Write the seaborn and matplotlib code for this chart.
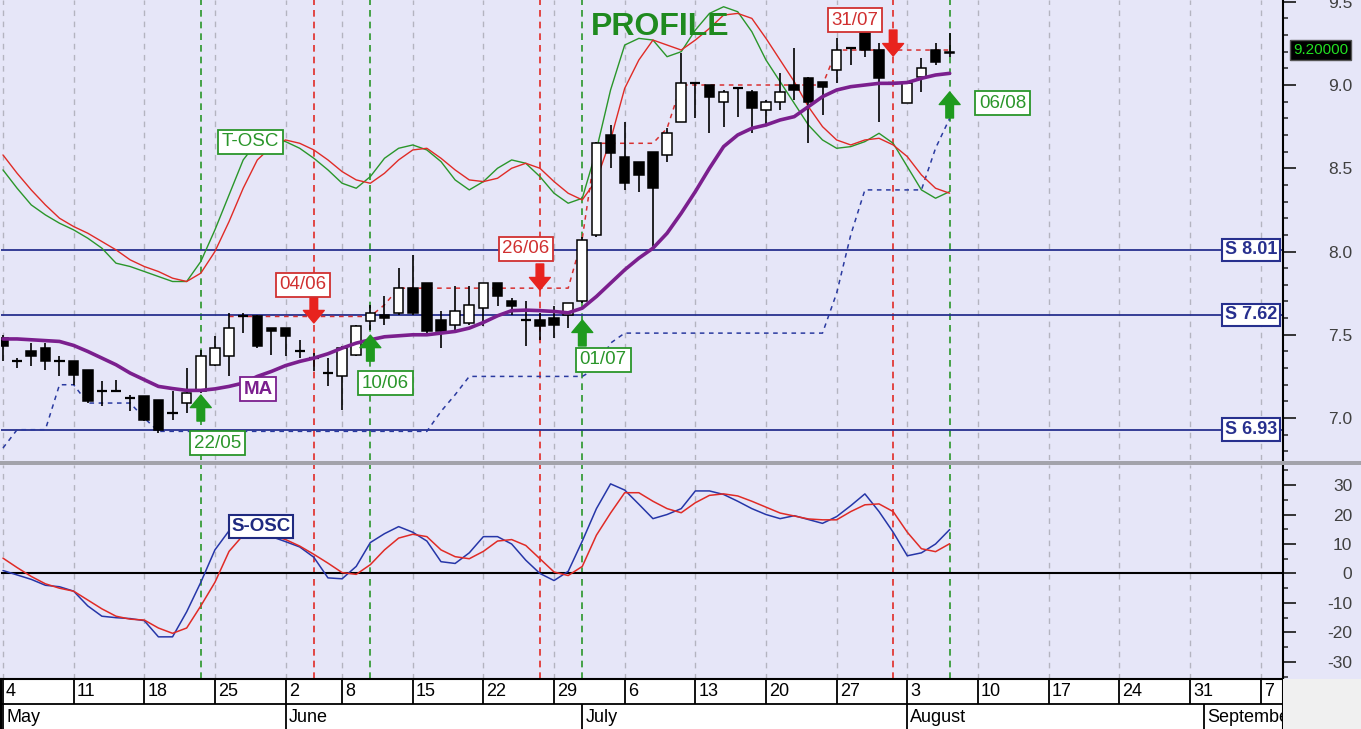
import numpy as np
import seaborn as sns
import matplotlib.pyplot as plt
from matplotlib import font_manager
from matplotlib.patches import Rectangle
from matplotlib.ticker import MultipleLocator, FormatStrFormatter

# ---------------- data (one value per trading day) ----------------
opens = [7.48, 7.34, 7.40, 7.42, 7.34, 7.34, 7.29, 7.16, 7.16, 7.12,
         7.13, 7.11, 7.03, 7.09, 7.16, 7.32, 7.37, 7.61, 7.61, 7.54,
         7.54, 7.40, 7.36, 7.27, 7.25, 7.38, 7.58, 7.62, 7.63, 7.78,
         7.81, 7.59, 7.56, 7.57, 7.66, 7.81, 7.70, 7.59, 7.59, 7.60,
         7.62, 7.70, 8.10, 8.70, 8.57, 8.54, 8.60, 8.58, 8.78, 9.01,
         9.00, 8.90, 8.98, 8.96, 8.85, 8.90, 9.00, 9.04, 9.02, 9.09,
         9.22, 9.31, 9.21, 9.01, 8.89, 9.05, 9.21, 9.19]
highs = [7.50, 7.36, 7.45, 7.45, 7.37, 7.34, 7.29, 7.22, 7.23, 7.14,
         7.13, 7.11, 7.16, 7.30, 7.41, 7.49, 7.63, 7.63, 7.62, 7.54,
         7.54, 7.47, 7.39, 7.36, 7.43, 7.56, 7.68, 7.73, 7.90, 7.98,
         7.81, 7.64, 7.79, 7.79, 7.81, 7.81, 7.72, 7.70, 7.63, 7.67,
         7.69, 8.09, 8.66, 8.76, 8.78, 8.54, 8.60, 8.74, 9.19, 9.01,
         9.00, 8.97, 8.98, 8.97, 8.91, 9.07, 9.22, 9.05, 9.02, 9.28,
         9.23, 9.31, 9.25, 9.02, 9.01, 9.16, 9.25, 9.31]
lows = [7.34, 7.30, 7.31, 7.29, 7.25, 7.20, 7.09, 7.07, 7.16, 7.04,
        6.98, 6.91, 6.99, 7.03, 7.15, 7.31, 7.25, 7.51, 7.42, 7.38,
        7.37, 7.36, 7.28, 7.19, 7.05, 7.37, 7.53, 7.56, 7.62, 7.62,
        7.51, 7.42, 7.53, 7.56, 7.55, 7.67, 7.62, 7.43, 7.47, 7.48,
        7.54, 7.69, 8.09, 8.50, 8.37, 8.36, 8.01, 8.54, 8.78, 8.80,
        8.71, 8.75, 8.81, 8.71, 8.76, 8.85, 8.91, 8.65, 8.82, 9.01,
        9.12, 9.17, 8.78, 9.00, 8.89, 8.96, 9.12, 9.17]
closes = [7.43, 7.34, 7.37, 7.34, 7.34, 7.26, 7.10, 7.16, 7.16, 7.12,
          6.99, 6.93, 7.03, 7.15, 7.37, 7.42, 7.54, 7.61, 7.43, 7.52,
          7.49, 7.40, 7.36, 7.27, 7.42, 7.55, 7.63, 7.60, 7.78, 7.63,
          7.52, 7.52, 7.64, 7.68, 7.81, 7.73, 7.67, 7.59, 7.55, 7.56,
          7.69, 8.07, 8.65, 8.59, 8.41, 8.46, 8.38, 8.71, 9.01, 9.01,
          8.93, 8.96, 8.98, 8.86, 8.90, 8.96, 8.97, 8.90, 8.99, 9.21,
          9.22, 9.21, 9.04, 9.01, 9.01, 9.10, 9.14, 9.20]

ma_line = [7.475, 7.475, 7.47, 7.465, 7.46, 7.436, 7.40, 7.36, 7.32, 7.27,
           7.23, 7.19, 7.177, 7.166, 7.166, 7.175, 7.19, 7.21, 7.25, 7.28,
           7.315, 7.34, 7.36, 7.386, 7.42, 7.45, 7.47, 7.488, 7.494, 7.50,
           7.50, 7.51, 7.52, 7.54, 7.574, 7.614, 7.645, 7.648, 7.645, 7.64,
           7.632, 7.66, 7.73, 7.81, 7.89, 7.96, 8.02, 8.11, 8.23, 8.36,
           8.50, 8.63, 8.70, 8.74, 8.76, 8.79, 8.81, 8.87, 8.93, 8.97,
           8.99, 9.00, 9.01, 9.01, 9.015, 9.04, 9.06, 9.07]

tosc_fast = [8.49, 8.38, 8.28, 8.22, 8.17, 8.13, 8.08, 8.02, 7.93, 7.91,
             7.88, 7.85, 7.82, 7.82, 7.94, 8.13, 8.34, 8.55, 8.66, 8.68,
             8.66, 8.62, 8.56, 8.49, 8.41, 8.38, 8.45, 8.56, 8.62, 8.64,
             8.61, 8.54, 8.43, 8.37, 8.42, 8.50, 8.55, 8.53, 8.45, 8.35,
             8.29, 8.32, 8.61, 8.97, 9.24, 9.28, 9.27, 9.17, 9.20, 9.33,
             9.43, 9.47, 9.44, 9.32, 9.15, 9.02, 8.89, 8.76, 8.67, 8.62,
             8.63, 8.66, 8.71, 8.65, 8.51, 8.37, 8.32, 8.36]
tosc_slow = [8.58, 8.47, 8.37, 8.28, 8.20, 8.15, 8.11, 8.06, 8.01, 7.95,
             7.91, 7.88, 7.84, 7.82, 7.87, 8.00, 8.18, 8.38, 8.55, 8.63,
             8.67, 8.65, 8.61, 8.55, 8.48, 8.43, 8.41, 8.47, 8.55, 8.61,
             8.62, 8.56, 8.49, 8.43, 8.42, 8.44, 8.50, 8.53, 8.50, 8.42,
             8.35, 8.31, 8.43, 8.67, 8.98, 9.15, 9.27, 9.24, 9.21, 9.27,
             9.34, 9.42, 9.43, 9.40, 9.28, 9.15, 9.02, 8.87, 8.75, 8.67,
             8.64, 8.67, 8.68, 8.64, 8.57, 8.46, 8.38, 8.35]

stop_line = [6.82, 6.93, 6.93, 6.93, 7.20, 7.20, 7.09, 7.09, 7.09, 7.09,
             7.00, 6.92, 6.92, 6.92, 6.92, 6.92, 6.92, 6.92, 6.92, 6.92,
             6.92, 6.92, 6.92, 6.92, 6.92, 6.92, 6.92, 6.92, 6.92, 6.92,
             6.92, 7.04, 7.14, 7.25, 7.25, 7.25, 7.25, 7.25, 7.25, 7.25,
             7.25, 7.25, 7.30, 7.45, 7.51, 7.51, 7.51, 7.51, 7.51, 7.51,
             7.51, 7.51, 7.51, 7.51, 7.51, 7.51, 7.51, 7.51, 7.51, 7.75,
             8.10, 8.37, 8.37, 8.37, 8.37, 8.37, 8.62, 8.80]

resistance_line = [np.nan] * 16 + [
    7.61, 7.61, 7.61, 7.61, 7.61, 7.61, 7.61, 7.61, 7.61, 7.61,
    7.61, 7.68, 7.78, 7.78, 7.78, 7.78, 7.78, 7.78, 7.78, 7.78,
    7.78, 7.78, 7.78, 7.78, 7.78, 8.08, 8.65, 8.65, 8.65, 8.65,
    8.65, 8.74, 9.00, 9.00, 9.00, 9.00, 9.00, 9.00, 9.00, 9.00,
    9.00, 9.00, 9.00, 9.21, 9.21, 9.21, 9.21, 9.21, 9.21, 9.21,
    9.21, 9.21]

sosc_fast = [1.0, -0.5, -2.0, -4.0, -4.5, -6.0, -11.0, -14.5, -15.0, -15.3,
             -16.0, -21.5, -21.5, -13.0, -3.0, 8.0, 14.5, 15.0, 14.5, 12.5,
             10.8, 9.0, 5.5, -1.5, -1.8, 2.4, 10.5, 13.5, 15.9, 14.0,
             11.0, 4.0, 3.4, 7.0, 12.5, 12.5, 10.0, 4.5, 0.0, -2.4,
             0.7, 11.0, 22.0, 30.4, 28.3, 23.5, 18.6, 20.0, 22.0, 28.0,
             28.0, 26.8, 24.5, 22.0, 20.0, 18.6, 19.6, 18.3, 17.0, 19.3,
             23.0, 27.0, 21.0, 14.0, 6.0, 7.0, 10.0, 14.9]
sosc_slow = [5.2, 2.0, -1.0, -3.5, -5.0, -6.0, -9.0, -12.0, -14.5, -15.5,
             -15.8, -18.5, -20.3, -18.5, -11.0, -3.0, 7.5, 13.0, 14.5, 13.0,
             11.5, 9.3, 6.5, 3.5, 0.3, -0.3, 3.0, 8.0, 12.0, 13.3,
             12.5, 8.0, 5.7, 5.0, 7.5, 11.0, 11.5, 9.5, 5.0, 0.5,
             -0.7, 2.4, 13.0, 20.5, 27.4, 27.4, 24.5, 22.0, 20.6, 24.0,
             26.5, 27.0, 26.3, 24.5, 22.5, 20.5, 19.5, 18.5, 18.2, 18.2,
             21.0, 23.3, 23.6, 21.0, 14.0, 8.4, 7.4, 10.1]

support_levels = [8.01, 7.62, 6.93]
last_price = 9.20

# signals: trading-day index, label, kind, arrow-tip price
signal_idx = [14, 22, 26, 38, 41, 63, 67]
signal_labels = ['22/05', '04/06', '10/06', '26/06', '01/07', '31/07', '06/08']
signal_kind = ['buy', 'sell', 'buy', 'sell', 'buy', 'sell', 'buy']
signal_tip = [7.138, 7.571, 7.498, 7.769, 7.589, 9.174, 8.958]

# calendar axis (first trading day of each week / month)
week_idx = [0, 5, 10, 15, 20, 24, 29, 34, 39, 44, 49, 54, 59, 64, 69, 74, 79, 84, 89]
week_labels = ['4', '11', '18', '25', '2', '8', '15', '22', '29', '6', '13', '20',
               '27', '3', '10', '17', '24', '31', '7']
month_idx = [0, 20, 41, 64, 85]
month_labels = ['May', 'June', 'July', 'August', 'September']

# ---------------- styling ----------------
sns.set_style("white")
installed = {f.name for f in font_manager.fontManager.ttflist}
narrow = 'Liberation Sans Narrow' if 'Liberation Sans Narrow' in installed else 'Liberation Sans'
plt.rcParams['font.family'] = ['Liberation Sans', 'DejaVu Sans']

BG = '#e6e6f8'
NAVY = '#27308e'
GREEN = '#2a962a'
RED = '#e02b26'
PURPLE = '#7b1f8e'

W, H = 1361, 729
fig = plt.figure(figsize=(W / 100, H / 100), dpi=100, facecolor=BG)


def px_axes(x0, y0, x1, y1):
    return fig.add_axes([x0 / W, 1 - y1 / H, (x1 - x0) / W, (y1 - y0) / H])


ax = px_axes(1, 0, 1283, 460)
axo = px_axes(1, 465, 1283, 679)
axd = px_axes(1, 679, 1283, 729)

days = np.arange(len(closes))
xlim = (-0.14, 90.59)

for a in (ax, axo):
    a.set_facecolor(BG)
    a.set_xlim(*xlim)
    a.set_xticks([])
    for s in ('left', 'top', 'bottom'):
        a.spines[s].set_visible(False)
    a.spines['right'].set_color('black')
    a.spines['right'].set_linewidth(1.5)
    # weekly grid
    for w in week_idx:
        a.axvline(w, color='#b4b4c0', lw=1.0, ls=(0, (4, 4)), zorder=1)
    # signal lines
    for i, k in zip(signal_idx, signal_kind):
        a.axvline(i, color=GREEN if k == 'buy' else RED, lw=1.2, ls=(0, (4, 3)), zorder=2)

# ---------------- price panel ----------------
for lvl in support_levels:
    ax.axhline(lvl, color=NAVY, lw=1.3, zorder=2)
    ax.annotate(f'S {lvl:.2f}', xy=(1, lvl), xycoords=('axes fraction', 'data'),
                xytext=(-6, 0), textcoords='offset pixels', ha='right', va='center',
                fontsize=13, fontweight='bold', color=NAVY, zorder=9,
                bbox=dict(boxstyle='square,pad=0.15', fc='white', ec=NAVY, lw=1.5))

ax.plot(days, stop_line, color='#2a3aa0', lw=1.1, ls=(0, (3, 3)), zorder=3)
ax.plot(days, resistance_line, color='#d83030', lw=1.1, ls=(0, (3, 3)), zorder=3)

sns.lineplot(x=days, y=tosc_fast, ax=ax, color=GREEN, lw=1.0, zorder=3)
sns.lineplot(x=days, y=tosc_slow, ax=ax, color=RED, lw=1.0, zorder=3)

o, h, l, c = map(np.array, (opens, highs, lows, closes))
ax.vlines(days, l, h, color='black', lw=1.2, zorder=4)
up, down, flat = c > o, c < o, c == o
ax.bar(days[up], (c - o)[up], bottom=o[up], width=0.68, color='white',
       edgecolor='black', linewidth=1.1, zorder=5)
ax.bar(days[down], (o - c)[down], bottom=c[down], width=0.68, color='black',
       edgecolor='black', linewidth=1.1, zorder=5)
ax.hlines(c[flat], days[flat] - 0.36, days[flat] + 0.36, color='black', lw=1.6, zorder=5)

sns.lineplot(x=days, y=ma_line, ax=ax, color=PURPLE, lw=2.6, zorder=6)

# signal arrows and date boxes (label offsets in pixels from the arrow tip)
label_offsets = {'22/05': (17, -48), '04/06': (-11, 38), '10/06': (15, -48),
                 '26/06': (-14, 41), '01/07': (21, -40), '31/07': (-38, 36),
                 '06/08': (53, -11)}
for i, lab, k, tip in zip(signal_idx, signal_labels, signal_kind, signal_tip):
    col = '#1f9a1f' if k == 'buy' else '#e8231e'
    tcol = GREEN if k == 'buy' else '#d03030'
    ax.annotate('', xy=(i, tip), xytext=(0, -26 if k == 'buy' else 26),
                textcoords='offset pixels', zorder=8,
                arrowprops=dict(arrowstyle='simple,head_length=0.9,head_width=1.5,tail_width=0.55',
                                color=col, shrinkA=0, shrinkB=0, mutation_scale=10))
    ax.annotate(lab, xy=(i, tip), xytext=label_offsets[lab], textcoords='offset pixels',
                ha='center', va='center', fontsize=13.5, color=tcol, zorder=9,
                bbox=dict(boxstyle='square,pad=0.2', fc='white', ec=tcol, lw=1.3))

ax.text(17.5, 8.658, 'T-OSC', ha='center', va='center', fontsize=13.5, color=GREEN, zorder=9,
        bbox=dict(boxstyle='square,pad=0.2', fc='white', ec=GREEN, lw=1.3))
ax.text(18.05, 7.174, 'MA', ha='center', va='center', fontsize=13.5, fontweight='bold',
        color=PURPLE, zorder=9,
        bbox=dict(boxstyle='square,pad=0.2', fc='white', ec=PURPLE, lw=1.3))
ax.text(46.5, 9.348, 'PROFILE', ha='center', va='center', fontsize=23, fontweight='bold',
        color='#1f8a1f', zorder=9)

ax.set_ylim(6.748, 9.5105)
ax.yaxis.tick_right()
ax.yaxis.set_major_locator(MultipleLocator(0.5))
ax.yaxis.set_minor_locator(MultipleLocator(0.1))
ax.yaxis.set_major_formatter(FormatStrFormatter('%.1f'))
ax.tick_params(axis='y', which='major', length=9, width=1.3, pad=41, labelsize=12.5,
               labelcolor='#404040', labelfontfamily=narrow)
ax.tick_params(axis='y', which='minor', length=3.8, width=1.1)
ax.set_ylabel('')
plt.setp(ax.get_yticklabels(), ha='right')

ax.annotate(f'{last_price:.5f}', xy=(1, last_price), xycoords=('axes fraction', 'data'),
            xytext=(10, 2), textcoords='offset pixels', ha='left', va='center',
            fontsize=11, family=narrow, color='#22e022', annotation_clip=False,
            bbox=dict(boxstyle='square,pad=0.2', fc='black', ec='#555555'))

# ---------------- oscillator panel ----------------
axo.axhline(0, color='black', lw=1.5, zorder=2)
sns.lineplot(x=days, y=sosc_fast, ax=axo, color='#2636a8', lw=1.1, zorder=3)
sns.lineplot(x=days, y=sosc_slow, ax=axo, color=RED, lw=1.1, zorder=3)
axo.text(18.26, 15.9, 'S-OSC', ha='center', va='center', fontsize=13.5, fontweight='bold',
         color='#1f2a80', zorder=9,
         bbox=dict(boxstyle='square,pad=0.15', fc='white', ec='#1f2a80', lw=1.5))
axo.set_ylim(-35.8, 36.8)
axo.yaxis.tick_right()
axo.yaxis.set_major_locator(MultipleLocator(10))
axo.yaxis.set_minor_locator(MultipleLocator(5))
axo.yaxis.set_major_formatter(FormatStrFormatter('%d'))
axo.tick_params(axis='y', which='major', length=9, width=1.3, pad=41, labelsize=12.5,
                labelcolor='#404040', labelfontfamily=narrow)
axo.tick_params(axis='y', which='minor', length=3.8, width=1.1)
axo.set_ylabel('')
plt.setp(axo.get_yticklabels(), ha='right')

# ---------------- date strip ----------------
axd.set_facecolor('white')
axd.set_xlim(*xlim)
axd.set_ylim(0, 2)
axd.set_xticks([])
axd.set_yticks([])
axd.spines['bottom'].set_visible(False)
for s in ('top', 'left', 'right'):
    axd.spines[s].set_color('black')
    axd.spines[s].set_linewidth(1.5)
axd.axhline(1, color='black', lw=1.3)
axd.vlines(week_idx, 1, 2, color='black', lw=1.3)
axd.vlines(month_idx, 0, 1, color='black', lw=1.3)
for w, lab in zip(week_idx, week_labels):
    axd.text(w + 0.22, 1.5, lab, ha='left', va='center', fontsize=13, family=narrow,
             color='black', clip_on=True)
for m, lab in zip(month_idx, month_labels):
    axd.text(m + 0.22, 0.48, lab, ha='left', va='center', fontsize=13, family=narrow,
             color='black', clip_on=True)

# panel separator and corner
fig.add_artist(Rectangle((0, 1 - 465 / H), 1, 4 / H, transform=fig.transFigure,
                         fc='#a3a3ab', ec='none'))
fig.add_artist(Rectangle((1283 / W, 0), (W - 1283) / W, 50 / H, transform=fig.transFigure,
                         fc='#f0f0f0', ec='none'))

fig.savefig('out.png', dpi=100, facecolor=BG)
